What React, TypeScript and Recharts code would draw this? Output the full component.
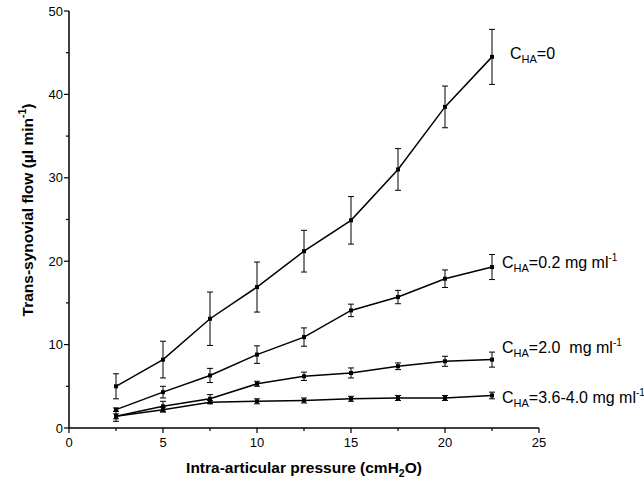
import React from 'react';
import { LineChart, Line, XAxis, YAxis, ErrorBar } from 'recharts';

const pressure = [2.5, 5, 7.5, 10, 12.5, 15, 17.5, 20, 22.5];

// C_HA = 0
const flow0 = [5.0, 8.2, 13.1, 16.9, 21.2, 24.9, 31.0, 38.5, 44.5];
const err0 = [1.5, 2.2, 3.2, 3.0, 2.5, 2.85, 2.5, 2.5, 3.3];
// C_HA = 0.2 mg/ml
const flow02 = [2.2, 4.3, 6.3, 8.8, 10.9, 14.1, 15.7, 17.9, 19.3];
const err02 = [0.2, 0.7, 0.85, 1.05, 1.1, 0.75, 0.8, 1.05, 1.5];
// C_HA = 2.0 mg/ml
const flow20 = [1.4, 2.6, 3.5, 5.3, 6.2, 6.6, 7.4, 8.0, 8.2];
const err20 = [0.6, 0.6, 0.5, 0.3, 0.5, 0.6, 0.4, 0.6, 0.9];
// C_HA = 3.6-4.0 mg/ml
const flow36 = [1.4, 2.2, 3.1, 3.2, 3.3, 3.5, 3.6, 3.6, 3.9];
const err36 = [0.3, 0.3, 0.2, 0.3, 0.3, 0.3, 0.3, 0.3, 0.4];

const xTicks = [0, 2.5, 5, 7.5, 10, 12.5, 15, 17.5, 20, 22.5, 25];
const yTicks = [0, 5, 10, 15, 20, 25, 30, 35, 40, 45, 50];

const data = pressure.map((p, i) => ({
  p,
  f0: flow0[i], e0: err0[i],
  f02: flow02[i], e02: err02[i],
  f20: flow20[i], e20: err20[i],
  f36: flow36[i], e36: err36[i],
}));

const FONT = '"Liberation Sans", Arial, sans-serif';

const series = [
  { key: 'f0', err: 'e0', text: '=0', dx: 18, dy: 2 },
  { key: 'f02', err: 'e02', text: '=0.2 mg ml', sup: true, dx: 10, dy: 1 },
  { key: 'f20', err: 'e20', text: '=2.0  mg ml', sup: true, dx: 10, dy: -7 },
  { key: 'f36', err: 'e36', text: '=3.6-4.0 mg ml', sup: true, dx: 10, dy: 8 },
];

const XTick = ({ x, y, payload }: any) => {
  const major = payload.value % 5 === 0;
  return (
    <g>
      <line x1={x} y1={y} x2={x} y2={y + (major ? 5 : 3)} stroke="#000" strokeWidth={1.2} />
      {major && (
        <text x={x} y={y + 19} textAnchor="middle" fontSize={13} fontFamily={FONT} fill="#000">
          {payload.value}
        </text>
      )}
    </g>
  );
};

const YTick = ({ x, y, payload }: any) => {
  const major = payload.value % 10 === 0;
  return (
    <g>
      <line x1={x} y1={y} x2={x - (major ? 5 : 3)} y2={y} stroke="#000" strokeWidth={1.2} />
      {major && (
        <text x={x - 6} y={y + 4.5} textAnchor="end" fontSize={13} fontFamily={FONT} fill="#000">
          {payload.value}
        </text>
      )}
    </g>
  );
};

const Dot = ({ cx, cy }: any) => <rect x={cx - 2} y={cy - 2} width={4} height={4} fill="#000" />;

const makeLabel = (s: any) => (props: any) => {
  const { x, y, index } = props;
  if (index !== pressure.length - 1) return null;
  return (
    <text x={x + s.dx} y={y + s.dy} fontSize={16} fontFamily={FONT} fill="#000" style={{ whiteSpace: 'pre' }}>
      C
      <tspan fontSize={11} dy={4}>HA</tspan>
      <tspan fontSize={16} dy={-4}>{s.text}</tspan>
      {s.sup && <tspan fontSize={10} dy={-7}>-1</tspan>}
    </text>
  );
};

const XTitle = ({ viewBox }: any) => (
  <text x={viewBox.x + viewBox.width / 2} y={viewBox.y + 45} textAnchor="middle" fontSize={15.5} fontWeight="bold" fontFamily={FONT} fill="#000">
    Intra-articular pressure (cmH<tspan fontSize={10.5} dy={4}>2</tspan><tspan dy={-4}>O)</tspan>
  </text>
);

const YTitle = () => (
  <text x={0} y={0} transform="translate(33,210) rotate(-90)" textAnchor="middle" fontSize={15.5} fontWeight="bold" fontFamily={FONT} fill="#000">
    Trans-synovial flow (µl min<tspan fontSize={10.5} dy={-7}>-1</tspan><tspan dy={7}>)</tspan>
  </text>
);

export default function App() {
  return (
    <div style={{ position: 'absolute', left: 0, top: 0, width: 644, height: 480, background: '#fff' }}>
      <LineChart width={644} height={480} data={data} margin={{ top: 11, right: 105, bottom: 22, left: 0 }}>
        <XAxis
          dataKey="p"
          type="number"
          domain={[0, 25]}
          ticks={xTicks}
          interval={0}
          height={30}
          tickLine={false}
          tickSize={0}
          tickMargin={0}
          tick={<XTick />}
          axisLine={{ stroke: '#000', strokeWidth: 1.5 }}
          label={<XTitle />}
        />
        <YAxis
          type="number"
          domain={[0, 50]}
          ticks={yTicks}
          interval={0}
          width={69}
          tickLine={false}
          tickSize={0}
          tickMargin={0}
          tick={<YTick />}
          axisLine={{ stroke: '#000', strokeWidth: 1.5 }}
          label={<YTitle />}
        />
        {series.map((s) => (
          <Line
            key={s.key}
            dataKey={s.key}
            type="linear"
            stroke="#000"
            strokeWidth={1.5}
            dot={<Dot />}
            activeDot={false}
            isAnimationActive={false}
            label={makeLabel(s)}
          >
            <ErrorBar dataKey={s.err} direction="y" width={3} stroke="#000" strokeWidth={1} />
          </Line>
        ))}
      </LineChart>
    </div>
  );
}
